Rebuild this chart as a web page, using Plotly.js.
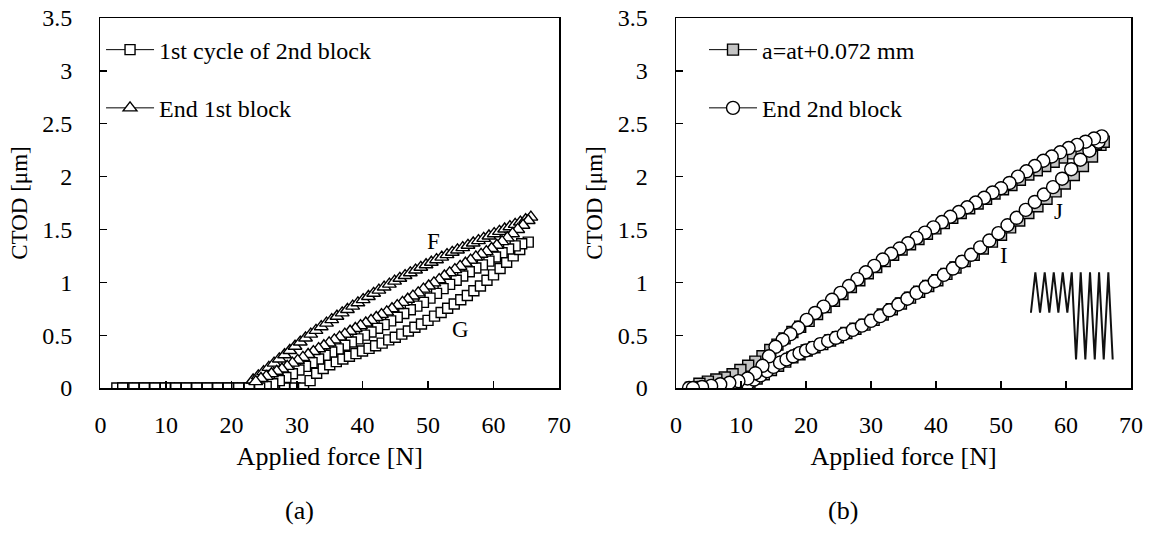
<!DOCTYPE html>
<html>
<head>
<meta charset="utf-8">
<script src="https://cdn.plot.ly/plotly-3.0.1.min.js"></script>
<style>html,body{margin:0;padding:0;background:#fff;}#chart{width:1156px;height:551px;}</style>
</head>
<body>
<div id="chart"></div>
<script>
// ---------- Panel (a): 1st cycle of 2nd block (squares) ----------
const leftSquareX = [2.5,4.1,5.7,7.3,8.9,10.5,12.1,13.7,15.3,16.9,18.5,20.1,21.7,23.3,24.9,26.5,28.1,29.7,31.0,
  32,33,34,35,36,37,38,39,40,41,42,43,44,45,46,47,48,49,50,51,52,53,54,55,56,57,58,59,60,61,62,63,64,65.3,
  64.3,63.3,62.3,61.3,60.3,59.3,58.3,57.3,56.3,55.3,54.3,53.3,52.3,51.3,50.3,49.3,48.3,47.3,46.3,45.3,44.3,43.3,42.3,41.3,40.3,39.3,38.3,37.3,36.3,35.3,34.3,33.3,32.3,31.3,30.3,29.3,28.3,27.3,26.3,25.3,24.3,
  22.7,21.1,19.5,17.9,16.3,14.7,13.1,11.5,9.9,8.3,6.7,5.1,3.4];
const leftSquareY = [0,0,0,0,0,0,0,0,0,0,0,0,0,0,0,0,0,0,0,
  0.07,0.14,0.185,0.22,0.25,0.275,0.3,0.325,0.35,0.375,0.4,0.425,0.455,0.48,0.51,0.54,0.575,0.605,0.64,0.68,0.715,0.755,0.795,0.835,0.875,0.92,0.965,1.02,1.07,1.13,1.19,1.25,1.31,1.38,
  1.365,1.345,1.315,1.28,1.24,1.2,1.165,1.135,1.1,1.06,1.02,0.98,0.94,0.895,0.85,0.81,0.775,0.74,0.705,0.67,0.635,0.6,0.565,0.53,0.5,0.465,0.435,0.405,0.37,0.34,0.31,0.275,0.24,0.205,0.17,0.135,0.1,0.07,0.04,0.015,0,
  0,0,0,0,0,0,0,0,0,0,0,0,0];

// ---------- Panel (a): End 1st block (triangles) ----------
const leftTriX = [23.3,24.1,24.9,25.7,26.5,27.3,28.1,28.9,29.7,30.5,31.3,32.1,32.9,33.7,34.5,35.3,36.1,36.9,37.7,38.5,39.3,40.1,40.9,41.7,42.5,43.3,44.1,44.9,45.7,46.5,47.3,48.1,48.9,49.7,50.5,51.3,52.1,52.9,53.7,54.5,55.3,56.1,56.9,57.7,58.5,59.3,60.1,60.9,61.7,62.5,63.3,64.1,64.9,65.7,
  65.3,64.5,63.7,62.9,62.1,61.3,60.5,59.7,58.9,58.1,57.3,56.5,55.7,54.9,54.1,53.3,52.5,51.7,50.9,50.1,49.3,48.5,47.7,46.9,46.1,45.3,44.5,43.7,42.9,42.1,41.3,40.5,39.7,38.9,38.1,37.3,36.5,35.7,34.9,34.1,33.3,32.5,31.7,30.9,30.1,29.3,28.5,27.7,26.9,26.1,25.3,24.5,23.7];
const leftTriY = [0.076,0.115,0.155,0.195,0.235,0.275,0.315,0.355,0.395,0.435,0.473,0.51,0.545,0.58,0.614,0.647,0.679,0.711,0.743,0.775,0.806,0.836,0.866,0.896,0.926,0.955,0.983,1.011,1.038,1.064,1.09,1.116,1.142,1.166,1.19,1.214,1.238,1.262,1.284,1.306,1.328,1.35,1.372,1.394,1.416,1.438,1.46,1.482,1.504,1.526,1.548,1.57,1.592,1.617,
  1.585,1.54,1.5,1.46,1.42,1.385,1.35,1.32,1.29,1.265,1.24,1.21,1.18,1.15,1.12,1.09,1.06,1.025,0.995,0.965,0.935,0.9,0.87,0.84,0.81,0.78,0.75,0.72,0.695,0.667,0.64,0.615,0.59,0.563,0.537,0.51,0.482,0.455,0.427,0.4,0.372,0.345,0.317,0.29,0.262,0.235,0.205,0.18,0.158,0.135,0.11,0.09,0.06];

// ---------- Panel (b): a=at+0.072 mm (gray squares) ----------
const rightSquareX = [2.3,3.6,4.9,6.2,7.5,8.8,10.1,11.3,12.4,13.5,14.6,15.7,16.8,17.9,19.0,20.1,21.3,22.5,23.7,24.9,26.2,27.6,29.0,30.4,31.8,33.2,34.6,36.0,37.4,38.8,40.2,41.6,43.0,44.4,45.8,47.2,48.6,50.0,51.4,52.8,54.2,55.6,57.0,58.4,59.8,61.2,62.6,64.0,65.3,
  65.8,64.6,63.3,62.0,60.7,59.4,58.1,56.8,55.5,54.2,52.9,51.6,50.3,49.0,47.7,46.4,45.1,43.8,42.5,41.2,39.9,38.6,37.3,36.0,34.7,33.4,32.1,30.8,29.5,28.2,26.9,25.6,24.3,23.0,21.7,20.4,19.1,17.9,16.7,15.6,14.5,13.3,12.2,11.1,9.9,8.7,7.5,6.2,4.9,3.6,2.3];
const rightSquareY = [0,0,0,0,0,0.005,0.02,0.05,0.09,0.13,0.17,0.21,0.25,0.29,0.32,0.355,0.385,0.415,0.45,0.48,0.52,0.56,0.6,0.645,0.695,0.745,0.8,0.855,0.91,0.965,1.02,1.08,1.14,1.2,1.26,1.32,1.385,1.45,1.52,1.585,1.655,1.72,1.79,1.86,1.935,2.015,2.1,2.19,2.3,
  2.33,2.31,2.28,2.25,2.22,2.18,2.14,2.1,2.06,2.02,1.97,1.92,1.88,1.84,1.79,1.745,1.7,1.655,1.61,1.56,1.51,1.46,1.41,1.36,1.31,1.26,1.2,1.145,1.085,1.02,0.955,0.89,0.825,0.765,0.7,0.635,0.58,0.53,0.47,0.41,0.36,0.3,0.25,0.21,0.17,0.13,0.1,0.08,0.06,0.04,0];

// ---------- Panel (b): End 2nd block (circles) ----------
const rightCircleX = [2.0,3.3,4.6,5.9,7.2,8.5,9.8,11.0,12.0,13.0,14.0,15.0,16.0,17.0,18.0,19.0,20.0,21.0,22.2,23.4,24.6,25.8,27.2,28.6,30.0,31.4,32.8,34.2,35.6,37.0,38.4,39.8,41.2,42.6,44.0,45.4,46.8,48.2,49.6,51.0,52.4,53.8,55.2,56.6,58.0,59.4,60.8,62.2,63.6,65.0,
  65.5,64.3,63.0,61.7,60.4,59.1,57.8,56.5,55.2,53.9,52.6,51.3,50.0,48.7,47.4,46.1,44.8,43.5,42.2,40.9,39.6,38.3,37.0,35.7,34.4,33.1,31.8,30.5,29.2,27.9,26.6,25.3,24.0,22.7,21.4,20.1,18.8,17.6,16.4,15.3,14.3,13.3,12.2,11.0,9.6,8.2,6.8,5.4,4.0,2.6];
const rightCircleY = [0,0,0,0,0,0,0.01,0.04,0.08,0.12,0.16,0.2,0.24,0.27,0.3,0.33,0.355,0.38,0.415,0.445,0.475,0.51,0.55,0.59,0.635,0.68,0.735,0.79,0.845,0.9,0.955,1.01,1.07,1.13,1.195,1.26,1.33,1.395,1.465,1.54,1.61,1.685,1.76,1.83,1.9,1.98,2.07,2.16,2.245,2.33,
  2.38,2.36,2.33,2.3,2.27,2.23,2.19,2.15,2.1,2.05,2.0,1.94,1.89,1.85,1.8,1.755,1.71,1.665,1.62,1.57,1.52,1.47,1.42,1.37,1.32,1.27,1.215,1.155,1.095,1.03,0.965,0.9,0.835,0.77,0.71,0.645,0.57,0.51,0.455,0.39,0.3,0.21,0.14,0.09,0.065,0.05,0.035,0.02,0.01,0];

// ---------- Panel (b): loading-sequence sketch (inset) ----------
const insetX = [54.6,55.28,56.0,56.72,57.43,58.11,58.82,59.49,60.2,60.88,61.54,62.26,62.97,63.69,64.42,65.08,65.8,66.51,67.18];
const insetY = [0.712,1.095,0.712,1.095,0.712,1.095,0.712,1.095,0.712,1.095,0.27,1.095,0.27,1.095,0.27,1.095,0.27,1.095,0.27];

const xTickVals = [0,10,20,30,40,50,60,70];
const yTickVals = [0,0.5,1,1.5,2,2.5,3,3.5];

const FONT = 'Liberation Serif, Times New Roman, serif';
const fnt = (size) => ({family: FONT, size: size, color: '#000'});
const mk = (sym, size, fill) => ({symbol: sym, size: size, color: fill, line: {color: '#000', width: 1.4}});

const traces = [
  {x: leftSquareX, y: leftSquareY, name: '1st cycle of 2nd block', mode: 'lines+markers', xaxis: 'x', yaxis: 'y',
   line: {color: '#000', width: 1}, marker: mk('square', 10, '#fff'), legend: 'legend', legendgroup: 'a1'},
  {x: leftTriX, y: leftTriY, name: 'End 1st block', mode: 'lines+markers', xaxis: 'x', yaxis: 'y',
   line: {color: '#000', width: 1}, marker: mk('triangle-up', 12, '#fff'), legend: 'legend', legendgroup: 'a2'},
  {x: rightSquareX, y: rightSquareY, name: 'a=at+0.072 mm', mode: 'lines+markers', xaxis: 'x2', yaxis: 'y2',
   line: {color: '#000', width: 1}, marker: mk('square', 11, '#c4c4c4'), legend: 'legend2', legendgroup: 'b1'},
  {x: rightCircleX, y: rightCircleY, name: 'End 2nd block', mode: 'lines+markers', xaxis: 'x2', yaxis: 'y2',
   line: {color: '#000', width: 1}, marker: mk('circle', 13, '#fff'), legend: 'legend2', legendgroup: 'b2'},
  {x: insetX, y: insetY, mode: 'lines', xaxis: 'x2', yaxis: 'y2', showlegend: false, hoverinfo: 'skip',
   line: {color: '#111', width: 2}}
];

const axisBase = () => ({
  showline: true, mirror: true, linecolor: '#000', linewidth: 1.5,
  ticks: 'inside', ticklen: 7, tickwidth: 1.3, tickcolor: '#000',
  showgrid: false, zeroline: false,
  tickfont: fnt(24)
});
const xAxis = (dom, anchor) => Object.assign(axisBase(), {
  domain: dom, range: [0, 70], tickvals: xTickVals.slice(), ticklabelstandoff: 15, anchor: anchor,
  title: {text: 'Applied force [N]', font: fnt(26), standoff: 9}
});
const yAxis = (anchor) => Object.assign(axisBase(), {
  domain: [0.2958, 0.9673], range: [0, 3.5], tickvals: yTickVals.slice(), anchor: anchor, ticklabelstandoff: 22,
  title: {text: 'CTOD [\u03bcm]', font: fnt(23), standoff: 8}
});
const legendBase = (x) => ({
  font: fnt(24), bgcolor: 'rgba(0,0,0,0)', borderwidth: 0, x: x, y: 0.95,
  xanchor: 'left', yanchor: 'top', tracegroupgap: 24, itemwidth: 48, traceorder: 'grouped'
});

const layout = {
  width: 1156, height: 551,
  margin: {l: 0, r: 0, t: 0, b: 0},
  font: fnt(20),
  paper_bgcolor: '#fff', plot_bgcolor: '#fff',
  showlegend: true,
  xaxis: xAxis([0.0869, 0.4836], 'y'),
  yaxis: yAxis('x'),
  xaxis2: xAxis([0.5848, 0.9784], 'y2'),
  yaxis2: yAxis('x2'),
  legend: legendBase(0.0874),
  legend2: legendBase(0.609),
  annotations: [
    {xref: 'x', yref: 'y', x: 50.9, y: 1.39, text: 'F', showarrow: false, font: fnt(23)},
    {xref: 'x', yref: 'y', x: 55.0, y: 0.55, text: 'G', showarrow: false, font: fnt(23)},
    {xref: 'x2', yref: 'y2', x: 50.5, y: 1.25, text: 'I', showarrow: false, font: fnt(23)},
    {xref: 'x2', yref: 'y2', x: 58.8, y: 1.67, text: 'J', showarrow: false, font: fnt(23)},
    {xref: 'paper', yref: 'paper', x: 0.2448, y: 0.0436, text: '(a)', showarrow: false, font: fnt(26)},
    {xref: 'paper', yref: 'paper', x: 0.744, y: 0.0436, text: '(b)', showarrow: false, font: fnt(26)}
  ]
};

Plotly.newPlot('chart', traces, layout, {displayModeBar: false, staticPlot: true});
</script>
</body>
</html>
